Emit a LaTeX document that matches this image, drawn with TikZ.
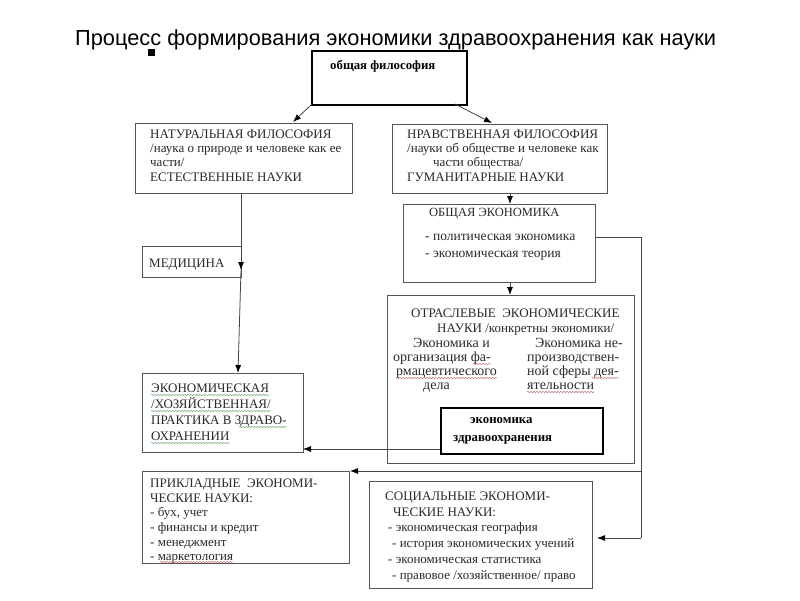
\documentclass[tikz,border=0pt]{standalone}
\usepackage{fontspec}
\setmainfont{Liberation Serif}
\newfontfamily\titlefont{Liberation Sans}
\usetikzlibrary{arrows.meta,decorations.pathmorphing}
\definecolor{boxc}{HTML}{555555}
\definecolor{txtc}{HTML}{2A2A2A}
\definecolor{linec}{HTML}{444444}
\definecolor{spellg}{HTML}{7FB07F}
\definecolor{spellr}{HTML}{C87878}
\begin{document}
\begin{tikzpicture}[x=1pt,y=-1pt,
 box/.style={draw=boxc,line width=0.9pt,inner sep=0pt,anchor=north west},
 thickbox/.style={box,draw=black,line width=1.9pt},
 txt/.style={anchor=base west,inner sep=0pt,text=txtc,font=\fontsize{13}{15}\selectfont},
 captxt/.style={txt,font=\fontsize{13}{15}\selectfont},
 bigtxt/.style={txt,font=\fontsize{14}{16}\selectfont},
 boldtxt/.style={txt,text=black,font=\bfseries\fontsize{12.8}{15}\selectfont},
 conn/.style={draw=linec,line width=0.8pt},
 arr/.style={conn,-{Latex[length=8pt,width=6pt,color=black]}},
 squig/.style={draw=#1,line width=0.5pt,decorate,decoration={snake,segment length=3pt,amplitude=0.7pt}},
]
\useasboundingbox[fill=white] (0,0) rectangle (800,600);

% title
\node[anchor=base west,inner sep=0pt,font=\titlefont\fontsize{21.8}{24}\selectfont] (title) at (75,45) {Процесс формирования экономики здравоохранения как науки};
\node[fill=black,minimum size=7pt,inner sep=0pt] (bullet) at (151.5,52) {};

% boxes
\node[thickbox,minimum width=155pt,minimum height=54pt] (phil) at (311,50) {};
\node[box,minimum width=217pt,minimum height=70pt] (nat) at (135,123) {};
\node[box,minimum width=215pt,minimum height=69pt] (mor) at (392,124) {};
\node[box,minimum width=192pt,minimum height=78pt] (gen) at (403,204) {};
\node[box,minimum width=99pt,minimum height=31pt] (med) at (142,246) {};
\node[box,minimum width=247pt,minimum height=168pt] (branch) at (387,295) {};
\node[thickbox,minimum width=162pt,minimum height=46pt] (health) at (440,407) {};
\node[box,minimum width=161pt,minimum height=79pt] (prac) at (142,373) {};
\node[box,minimum width=207pt,minimum height=92pt] (appl) at (142,471) {};
\node[box,minimum width=223pt,minimum height=107pt] (soc) at (369,481) {};

% texts
\node[boldtxt] (tphil) at (330,69) {общая философия};

\node[captxt] (tnat1) at (150,138) {НАТУРАЛЬНАЯ ФИЛОСОФИЯ};
\node[txt] (tnat2) at (150,152) {/наука о природе и человеке как ее};
\node[txt] (tnat3) at (150,166) {части/};
\node[captxt] (tnat4) at (150,181) {ЕСТЕСТВЕННЫЕ НАУКИ};

\node[captxt] (tmor1) at (407,138) {НРАВСТВЕННАЯ ФИЛОСОФИЯ};
\node[txt] (tmor2) at (407,152) {/науки об обществе и человеке как};
\node[txt] (tmor3) at (433,166) {части общества/};
\node[captxt] (tmor4) at (407,181) {ГУМАНИТАРНЫЕ НАУКИ};

\node[captxt,font=\fontsize{12.5}{15}\selectfont] (tgen1) at (429,216) {ОБЩАЯ ЭКОНОМИКА};
\node[txt,font=\fontsize{13.5}{15}\selectfont] (tgen2) at (425,240) {- политическая экономика};
\node[txt,font=\fontsize{13.5}{15}\selectfont] (tgen3) at (425,257) {- экономическая теория};

\node[captxt] (tmed) at (149,267) {МЕДИЦИНА};

\node[captxt] (tbr1) at (411,317) {ОТРАСЛЕВЫЕ\ \ ЭКОНОМИЧЕСКИЕ};
\node[captxt] (tbr2) at (437,332) {НАУКИ /конкретны экономики/};
\node[bigtxt] (tbr3) at (413,347) {Экономика и};
\node[bigtxt] (tbr4) at (393,361) {организация фа-};
\node[bigtxt] (tbr5) at (396,375) {рмацевтического};
\node[bigtxt] (tbr6) at (423,389) {дела};
\node[bigtxt] (tbr7) at (535,347) {Экономика не-};
\node[bigtxt] (tbr8) at (527,361) {производствен-};
\node[bigtxt] (tbr9) at (527,375) {ной сферы дея-};
\node[bigtxt] (tbr10) at (527,389) {ятельности};

\node[boldtxt] (thl1) at (470,423) {экономика};
\node[boldtxt] (thl2) at (453,441) {здравоохранения};

\node[captxt] (tpr1) at (151,392) {ЭКОНОМИЧЕСКАЯ};
\node[captxt] (tpr2) at (151,408) {/ХОЗЯЙСТВЕННАЯ/};
\node[captxt] (tpr3) at (151,424) {ПРАКТИКА В ЗДРАВО-};
\node[captxt] (tpr4) at (151,440) {ОХРАНЕНИИ};

\node[captxt] (tap1) at (150,487) {ПРИКЛАДНЫЕ\ \ ЭКОНОМИ-};
\node[captxt] (tap2) at (150,502) {ЧЕСКИЕ НАУКИ:};
\node[txt] (tap3) at (150,516) {- бух, учет};
\node[txt] (tap4) at (150,531) {- финансы и кредит};
\node[txt] (tap5) at (150,546) {- менеджмент};
\node[txt] (tap6) at (150,560) {- маркетология};

\node[captxt] (tso1) at (385,500) {СОЦИАЛЬНЫЕ ЭКОНОМИ-};
\node[captxt] (tso2) at (393,516) {ЧЕСКИЕ НАУКИ:};
\node[txt] (tso3) at (388,531) {- экономическая география};
\node[txt] (tso4) at (392,547) {- история экономических учений};
\node[txt] (tso5) at (388,563) {- экономическая статистика};
\node[txt] (tso6) at (392,579) {- правовое /хозяйственное/ право};

% spell-check underlines
\draw[squig=spellg] ([yshift=-3pt]tpr1.base west) -- ([yshift=-3pt]tpr1.base east);
\draw[squig=spellg] ([yshift=-3pt]tpr2.base west) -- ([yshift=-3pt]tpr2.base east);
\draw[squig=spellg] ([xshift=88pt,yshift=-3pt]tpr3.base west) -- ([yshift=-3pt]tpr3.base east);
\draw[squig=spellg] ([yshift=-3pt]tpr4.base west) -- ([yshift=-3pt]tpr4.base east);
\draw[squig=spellr] ([xshift=-18pt,yshift=-3pt]tbr4.base east) -- ([yshift=-3pt]tbr4.base east);
\draw[squig=spellr] ([yshift=-3pt]tbr5.base west) -- ([yshift=-3pt]tbr5.base east);
\draw[squig=spellr] ([xshift=-27pt,yshift=-3pt]tbr9.base east) -- ([yshift=-3pt]tbr9.base east);
\draw[squig=spellr] ([yshift=-3pt]tbr10.base west) -- ([yshift=-3pt]tbr10.base east);
\draw[squig=spellr] ([xshift=10pt,yshift=-2pt]tap6.base west) -- ([yshift=-2pt]tap6.base east);

% helper coordinates
\coordinate (p1) at (312,104);
\coordinate (p2) at (455,104);
\coordinate (nattip) at (293,122);
\coordinate (mortip) at (492,123);
\coordinate (natout) at (241,193);
\coordinate (medtip) at (241,270);
\coordinate (practip) at (238,373);
\coordinate (rgt1) at (641,237);
\coordinate (rgt2) at (641,471);
\coordinate (rgt3) at (641,538);
\coordinate (soctip) at (597,538);
\coordinate (appltip) at (350,471);
\coordinate (hl) at (440,449);
\coordinate (prtip) at (303,449);

% connectors
\draw[arr] (p1) -- (nattip);
\draw[arr] (p2) -- (mortip);
\draw[arr] (natout) -- (medtip);
\draw[arr] (medtip) -- (practip);
\draw[arr] (mor.south -| 510,0) -- (gen.north -| 510,0);
\draw[arr] (gen.south -| 510,0) -- (branch.north -| 510,0);
\draw[conn] (gen.east |- rgt1) -- (rgt1) -- (rgt3);
\draw[arr] (rgt3) -- (soctip);
\draw[arr] (rgt2) -- (appltip);
\draw[arr] (hl) -- (prtip);
\end{tikzpicture}
\end{document}
